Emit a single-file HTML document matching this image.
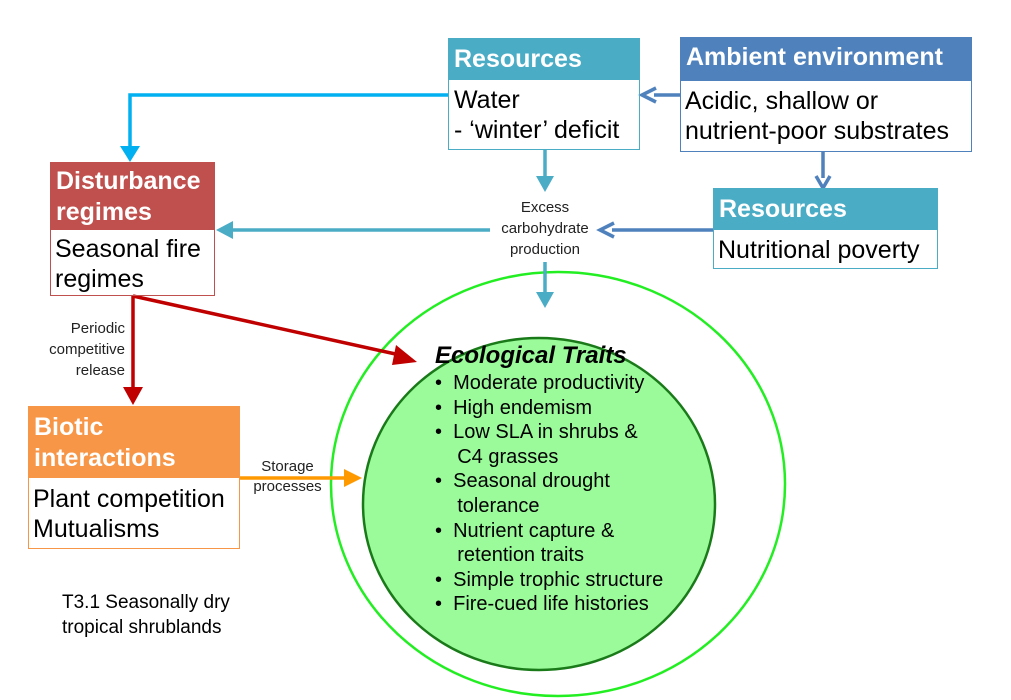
<!DOCTYPE html>
<html><head><style>
body{margin:0;width:1011px;height:700px;background:#fff;position:relative;font-family:"Liberation Sans",sans-serif;overflow:hidden}
.b{position:absolute;box-sizing:border-box}
.h{position:absolute;color:#fff;font-weight:bold;box-sizing:border-box;padding-left:6px;white-space:nowrap}
.t{position:absolute;color:#000;font-size:25px;line-height:30px;padding-left:5px;box-sizing:border-box;white-space:nowrap}
.s{position:absolute;font-size:15px;line-height:21px;color:#222}
</style></head><body>
<svg width="1011" height="700" style="position:absolute;left:0;top:0">
<ellipse cx="558" cy="484" rx="227" ry="212" fill="none" stroke="#22ee22" stroke-width="2.5"/>
<ellipse cx="539" cy="504" rx="176" ry="166" fill="#9bfb9b" stroke="#1a7a1a" stroke-width="2.5"/>
<g fill="none" stroke-width="3.5">
<path d="M448,95 H130 V148" stroke="#00b0f0"/>
<path d="M680,95 H654" stroke="#4f81bd"/>
<path d="M545,150 V178" stroke="#4bacc6"/>
<path d="M823,152 V178" stroke="#4f81bd"/>
<path d="M713,230 H612" stroke="#4f81bd"/>
<path d="M490,230 H230" stroke="#4bacc6"/>
<path d="M545,262 V296" stroke="#4bacc6"/>
<path d="M133,296 V390" stroke="#c00000"/>
<path d="M133,296 L400,355" stroke="#c00000"/>
<path d="M240,478 H346" stroke="#ff9900"/>
</g>
<path d="M120,146 L130,162 L140,146z" fill="#00b0f0"/>
<path d="M656,88 L642,95 L656,102" fill="none" stroke="#4f81bd" stroke-width="3.5"/>
<path d="M536,176 L545,192 L554,176z" fill="#4bacc6"/>
<path d="M816,176 L823,188 L830,176" fill="none" stroke="#4f81bd" stroke-width="3.5"/>
<path d="M614,223 L600,230 L614,237" fill="none" stroke="#4f81bd" stroke-width="3.5"/>
<path d="M233,221 L216,230 L233,239z" fill="#4bacc6"/>
<path d="M536,292 L545,308 L554,292z" fill="#4bacc6"/>
<path d="M123,387 L133,405 L143,387z" fill="#c00000"/>
<path d="M396,345 L417,362 L392,365z" fill="#c00000"/>
<path d="M344,469 L362,478 L344,487z" fill="#ff9900"/>
</svg>

<div class="b" style="left:448px;top:38px;width:192px;height:112px;border:1.5px solid #4bacc6"></div>
<div class="h" style="left:448px;top:38px;width:192px;height:42px;background:#4bacc6;font-size:25px;line-height:42px">Resources</div>
<div class="t" style="left:449px;top:85px;">Water<br>- ‘winter’ deficit</div>

<div class="b" style="left:680px;top:37px;width:292px;height:115px;border:1.5px solid #4f81bd"></div>
<div class="h" style="left:680px;top:37px;width:292px;height:44px;background:#4f81bd;font-size:25px;line-height:40px">Ambient environment</div>
<div class="t" style="left:680px;top:86px;">Acidic, shallow or<br>nutrient-poor substrates</div>

<div class="b" style="left:713px;top:188px;width:225px;height:81px;border:1.5px solid #4bacc6"></div>
<div class="h" style="left:713px;top:188px;width:225px;height:42px;background:#4bacc6;font-size:25px;line-height:42px">Resources</div>
<div class="t" style="left:713px;top:235px;">Nutritional poverty</div>

<div class="b" style="left:50px;top:162px;width:165px;height:134px;border:1.5px solid #c0504d"></div>
<div class="h" style="left:50px;top:162px;width:165px;height:68px;background:#c0504d;font-size:25px;line-height:31px;padding-top:4px">Disturbance<br>regimes</div>
<div class="t" style="left:50px;top:234px;">Seasonal fire<br>regimes</div>

<div class="b" style="left:28px;top:406px;width:212px;height:143px;border:1.5px solid #f79646"></div>
<div class="h" style="left:28px;top:406px;width:212px;height:72px;background:#f79646;font-size:25px;line-height:31px;padding-top:6px">Biotic<br>interactions</div>
<div class="t" style="left:28px;top:484px;">Plant competition<br>Mutualisms</div>

<div class="s" style="left:485px;top:197px;width:120px;text-align:center">Excess<br>carbohydrate<br>production</div>
<div class="s" style="left:20px;top:318px;width:105px;text-align:right">Periodic<br>competitive<br>release</div>
<div class="s" style="left:240px;top:457px;width:95px;text-align:center;line-height:20px">Storage<br>processes</div>
<div class="s" style="left:62px;top:590px;font-size:19px;line-height:25px;color:#000;white-space:nowrap">T3.1 Seasonally dry<br>tropical shrublands</div>

<div style="position:absolute;left:435px;top:342px;font-size:24px;font-weight:bold;font-style:italic;white-space:nowrap">Ecological Traits</div>
<div style="position:absolute;left:435px;top:371px;font-size:20px;line-height:24.6px;white-space:nowrap">
• &nbsp;Moderate productivity<br>• &nbsp;High endemism<br>• &nbsp;Low SLA in shrubs &amp;<br>&nbsp;&nbsp;&nbsp;&nbsp;C4 grasses<br>• &nbsp;Seasonal drought<br>&nbsp;&nbsp;&nbsp;&nbsp;tolerance<br>• &nbsp;Nutrient capture &amp;<br>&nbsp;&nbsp;&nbsp;&nbsp;retention traits<br>• &nbsp;Simple trophic structure<br>• &nbsp;Fire-cued life histories
</div>
</body></html>
